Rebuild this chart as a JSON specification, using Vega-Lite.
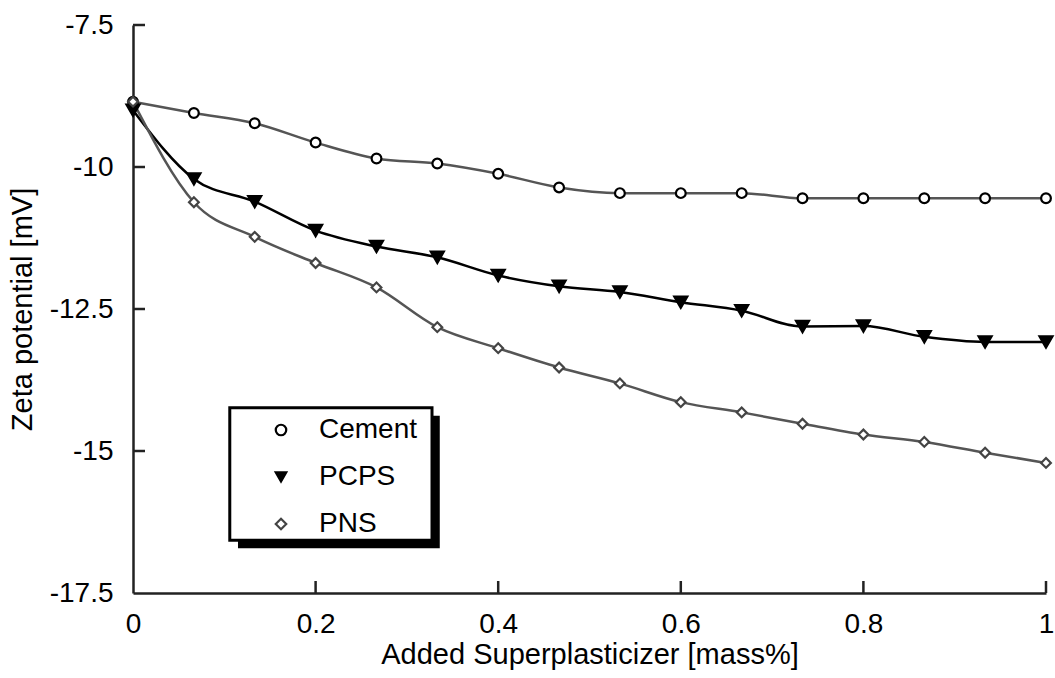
{
  "$schema": "https://vega.github.io/schema/vega-lite/v6.json",
  "width": 913,
  "height": 568,
  "autosize": {"type": "none"},
  "padding": {"left": 133, "top": 25, "right": 9, "bottom": 85},
  "background": "white",
  "config": {
    "font": "Liberation Sans",
    "view": {"stroke": null},
    "axis": {
      "labelFont": "Liberation Sans",
      "titleFont": "Liberation Sans",
      "labelFontSize": 28,
      "titleFontSize": 29,
      "titleFontWeight": "normal",
      "labelColor": "black",
      "titleColor": "black",
      "domainColor": "#222",
      "domainWidth": 2.5,
      "ticks": false,
      "tickSize": 0,
      "labelFlush": false,
      "grid": false
    },
    "legend": {
      "orient": "none",
      "legendX": 134,
      "legendY": 391,
      "zindex": 1,
      "padding": 0,
      "symbolSize": 110,
      "symbolStrokeWidth": 2.2,
      "labelFontSize": 28,
      "labelFont": "Liberation Sans",
      "labelColor": "#000000",
      "labelOffset": 24,
      "rowPadding": 19
    }
  },
  "datasets": {
    "xticks": [{"v": 0.2}, {"v": 0.4}, {"v": 0.6}, {"v": 0.8}, {"v": 1}],
    "yticks": [{"v": -7.5}, {"v": -10}, {"v": -12.5}, {"v": -15}],
    "zeta": [
      {"mass": 0, "zeta": -8.85, "series": "Cement"},
      {"mass": 0.0667, "zeta": -9.05, "series": "Cement"},
      {"mass": 0.1333, "zeta": -9.23, "series": "Cement"},
      {"mass": 0.2, "zeta": -9.57, "series": "Cement"},
      {"mass": 0.2667, "zeta": -9.85, "series": "Cement"},
      {"mass": 0.3333, "zeta": -9.94, "series": "Cement"},
      {"mass": 0.4, "zeta": -10.12, "series": "Cement"},
      {"mass": 0.4667, "zeta": -10.36, "series": "Cement"},
      {"mass": 0.5333, "zeta": -10.46, "series": "Cement"},
      {"mass": 0.6, "zeta": -10.46, "series": "Cement"},
      {"mass": 0.6667, "zeta": -10.46, "series": "Cement"},
      {"mass": 0.7333, "zeta": -10.55, "series": "Cement"},
      {"mass": 0.8, "zeta": -10.55, "series": "Cement"},
      {"mass": 0.8667, "zeta": -10.55, "series": "Cement"},
      {"mass": 0.9333, "zeta": -10.55, "series": "Cement"},
      {"mass": 1, "zeta": -10.55, "series": "Cement"},
      {"mass": 0, "zeta": -9.0, "series": "PCPS"},
      {"mass": 0.0667, "zeta": -10.21, "series": "PCPS"},
      {"mass": 0.1333, "zeta": -10.61, "series": "PCPS"},
      {"mass": 0.2, "zeta": -11.12, "series": "PCPS"},
      {"mass": 0.2667, "zeta": -11.40, "series": "PCPS"},
      {"mass": 0.3333, "zeta": -11.59, "series": "PCPS"},
      {"mass": 0.4, "zeta": -11.91, "series": "PCPS"},
      {"mass": 0.4667, "zeta": -12.10, "series": "PCPS"},
      {"mass": 0.5333, "zeta": -12.20, "series": "PCPS"},
      {"mass": 0.6, "zeta": -12.38, "series": "PCPS"},
      {"mass": 0.6667, "zeta": -12.53, "series": "PCPS"},
      {"mass": 0.7333, "zeta": -12.81, "series": "PCPS"},
      {"mass": 0.8, "zeta": -12.80, "series": "PCPS"},
      {"mass": 0.8667, "zeta": -12.99, "series": "PCPS"},
      {"mass": 0.9333, "zeta": -13.08, "series": "PCPS"},
      {"mass": 1, "zeta": -13.08, "series": "PCPS"},
      {"mass": 0, "zeta": -8.85, "series": "PNS"},
      {"mass": 0.0667, "zeta": -10.62, "series": "PNS"},
      {"mass": 0.1333, "zeta": -11.23, "series": "PNS"},
      {"mass": 0.2, "zeta": -11.69, "series": "PNS"},
      {"mass": 0.2667, "zeta": -12.12, "series": "PNS"},
      {"mass": 0.3333, "zeta": -12.82, "series": "PNS"},
      {"mass": 0.4, "zeta": -13.19, "series": "PNS"},
      {"mass": 0.4667, "zeta": -13.53, "series": "PNS"},
      {"mass": 0.5333, "zeta": -13.81, "series": "PNS"},
      {"mass": 0.6, "zeta": -14.14, "series": "PNS"},
      {"mass": 0.6667, "zeta": -14.32, "series": "PNS"},
      {"mass": 0.7333, "zeta": -14.52, "series": "PNS"},
      {"mass": 0.8, "zeta": -14.71, "series": "PNS"},
      {"mass": 0.8667, "zeta": -14.84, "series": "PNS"},
      {"mass": 0.9333, "zeta": -15.03, "series": "PNS"},
      {"mass": 1, "zeta": -15.21, "series": "PNS"}
    ]
  },
  "layer": [
    {
      "data": {"values": [{}]},
      "mark": {"type": "rect", "fill": "black"},
      "encoding": {
        "x": {"datum": 0.115, "type": "quantitative", "scale": {"domain": [0, 1], "nice": false}},
        "x2": {"datum": 0.336},
        "y": {"datum": -14.38, "type": "quantitative", "scale": {"domain": [-17.5, -7.5], "nice": false}},
        "y2": {"datum": -16.71}
      }
    },
    {
      "data": {"values": [{}]},
      "mark": {"type": "rect", "fill": "white", "stroke": "black", "strokeWidth": 3},
      "encoding": {
        "x": {"datum": 0.106, "type": "quantitative"},
        "x2": {"datum": 0.3275},
        "y": {"datum": -14.24, "type": "quantitative"},
        "y2": {"datum": -16.57}
      }
    },
    {
      "data": {"name": "xticks"},
      "mark": {"type": "tick", "orient": "vertical", "size": 12, "thickness": 2.5, "yOffset": -6, "color": "#222", "opacity": 1},
      "encoding": {
        "x": {"field": "v", "type": "quantitative"},
        "y": {"datum": -17.5, "type": "quantitative"}
      }
    },
    {
      "data": {"name": "yticks"},
      "mark": {"type": "tick", "orient": "horizontal", "size": 12, "thickness": 2.5, "xOffset": 6, "color": "#222", "opacity": 1},
      "encoding": {
        "y": {"field": "v", "type": "quantitative"},
        "x": {"datum": 0, "type": "quantitative"}
      }
    },
    {
      "data": {"name": "zeta"},
      "mark": {"type": "line", "interpolate": "monotone", "strokeWidth": 2.5},
      "encoding": {
        "x": {
          "field": "mass", "type": "quantitative",
          "scale": {"domain": [0, 1], "nice": false},
          "axis": {
            "title": "Added Superplasticizer [mass%]",
            "values": [0, 0.2, 0.4, 0.6, 0.8, 1],
            "format": "~g",
            "labelPadding": 17,
            "titlePadding": 2
          }
        },
        "y": {
          "field": "zeta", "type": "quantitative",
          "scale": {"domain": [-17.5, -7.5], "nice": false},
          "axis": {
            "title": "Zeta potential [mV]",
            "values": [-7.5, -10, -12.5, -15, -17.5],
            "labelExpr": "'-' + format(abs(datum.value), '')",
            "labelPadding": 20,
            "titlePadding": 12
          }
        },
        "color": {"condition": {"test": "datum.series === 'PCPS'", "value": "#000000"}, "value": "#555555"},
        "detail": {"field": "series"}
      }
    },
    {
      "data": {"name": "zeta"},
      "mark": {"type": "point", "strokeWidth": 2.2, "opacity": 1, "filled": false},
      "encoding": {
        "x": {"field": "mass", "type": "quantitative"},
        "y": {"field": "zeta", "type": "quantitative"},
        "shape": {
          "field": "series", "type": "nominal",
          "scale": {"domain": ["Cement", "PCPS", "PNS"], "range": ["circle", "triangle-down", "diamond"]},
          "legend": {"title": null}
        },
        "fill": {
          "field": "series", "type": "nominal",
          "scale": {"domain": ["Cement", "PCPS", "PNS"], "range": ["#ffffff", "#000000", "#ffffff"]},
          "legend": {"title": null}
        },
        "stroke": {
          "field": "series", "type": "nominal",
          "scale": {"domain": ["Cement", "PCPS", "PNS"], "range": ["#000000", "#000000", "#444444"]},
          "legend": {"title": null}
        },
        "size": {"condition": {"test": "datum.series === 'PCPS'", "value": 170}, "value": 95}
      }
    }
  ]
}
